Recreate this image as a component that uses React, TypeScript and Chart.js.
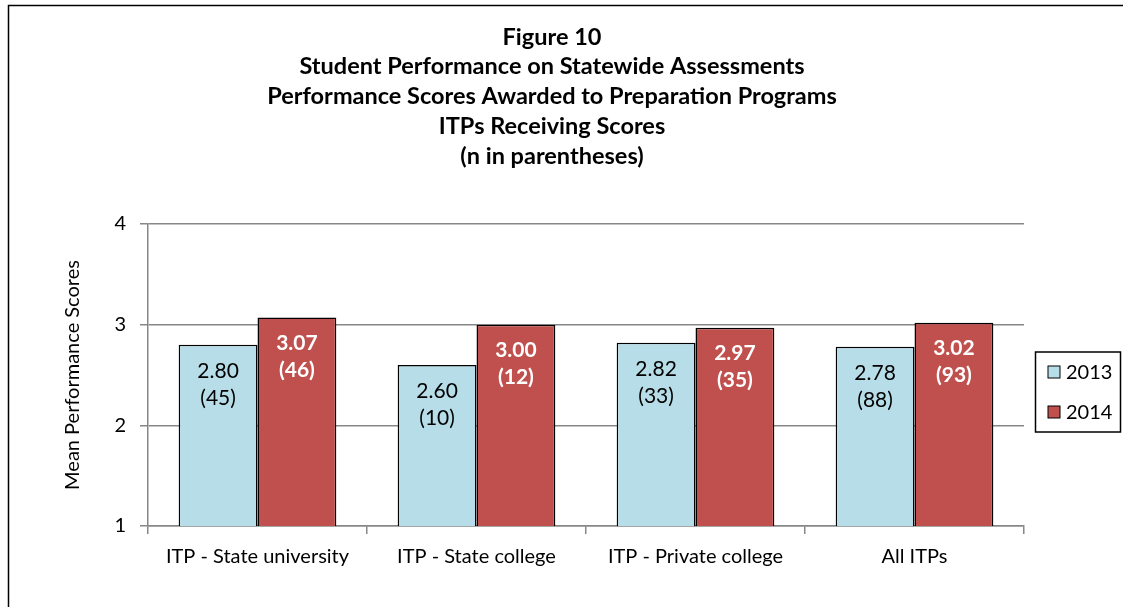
import React, { useEffect, useRef } from "react";
import { Chart, registerables } from "chart.js";

Chart.register(...registerables);

const categories = ["ITP - State university", "ITP - State college", "ITP - Private college", "All ITPs"];
const seriesLabels = ["2013", "2014"];
const values2013 = [2.8, 2.6, 2.82, 2.78];
const values2014 = [3.07, 3.0, 2.97, 3.02];
const counts2013 = [45, 10, 33, 88];
const counts2014 = [46, 12, 35, 93];
const yTickValues = [1, 2, 3, 4];
const yAxisTitle = "Mean Performance Scores";
const titleLines = [
  "Figure 10",
  "Student Performance on Statewide Assessments",
  "Performance Scores Awarded to Preparation Programs",
  "ITPs Receiving Scores",
  "(n in parentheses)",
];

const FONT = "Lato, 'Open Sans', sans-serif";
const COLOR_2013 = "#B7DEE8";
const COLOR_2014 = "#C0504D";
const GRID = "#878787";

const framePlugin = {
  id: "frame",
  beforeDraw(chart: any) {
    const ctx = chart.ctx;
    ctx.save();
    ctx.fillStyle = "#fff";
    ctx.fillRect(0, 0, chart.width, chart.height);
    ctx.restore();
  },
  afterDraw(chart: any) {
    const ctx = chart.ctx;
    ctx.save();
    ctx.strokeStyle = "#000";
    ctx.lineWidth = 1.5;
    ctx.strokeRect(8.5, 5.5, chart.width + 50, chart.height + 50);
    // title
    ctx.fillStyle = "#000";
    ctx.font = `bold 23.5px ${FONT}`;
    ctx.textAlign = "center";
    ctx.textBaseline = "middle";
    const ys = [37, 66.5, 96, 126, 156];
    titleLines.forEach((t, i) => ctx.fillText(t, 552, ys[i]));
    // legend
    ctx.lineWidth = 1.5;
    ctx.strokeRect(1035.5, 352, 85, 80);
    const items = [
      { label: seriesLabels[0], color: COLOR_2013, y: 372 },
      { label: seriesLabels[1], color: COLOR_2014, y: 412 },
    ];
    ctx.font = `20px ${FONT}`;
    ctx.textAlign = "left";
    items.forEach((it) => {
      ctx.fillStyle = it.color;
      ctx.fillRect(1048, it.y - 6, 12, 12);
      ctx.lineWidth = 1;
      ctx.strokeStyle = "#000";
      ctx.strokeRect(1048, it.y - 6, 12, 12);
      ctx.fillStyle = "#000";
      ctx.fillText(it.label, 1066, it.y + 1);
    });
    ctx.restore();
  },
};

const labelPlugin = {
  id: "barLabels",
  afterDatasetsDraw(chart: any) {
    const ctx = chart.ctx;
    ctx.save();
    ctx.textAlign = "center";
    ctx.textBaseline = "middle";
    const counts = [counts2013, counts2014];
    chart.data.datasets.forEach((ds: any, di: number) => {
      const meta = chart.getDatasetMeta(di);
      meta.data.forEach((bar: any, i: number) => {
        const v = ds.data[i] as number;
        ctx.font = di === 0 ? `21px ${FONT}` : `bold 21px ${FONT}`;
        ctx.fillStyle = di === 0 ? "#000" : "#fff";
        ctx.fillText(v.toFixed(2), bar.x, bar.y + 26);
        ctx.fillText(`(${counts[di][i]})`, bar.x, bar.y + 53);
      });
    });
    ctx.restore();
  },
};

export default function App() {
  const ref = useRef<HTMLCanvasElement | null>(null);
  useEffect(() => {
    document.body.style.margin = "0";
    if (!ref.current) return;
    const chart = new Chart(ref.current, {
      type: "bar",
      data: {
        labels: categories,
        datasets: [
          {
            label: seriesLabels[0],
            data: values2013,
            backgroundColor: COLOR_2013,
            borderColor: "#000",
            borderWidth: 1.5,
            categoryPercentage: 0.72,
            barPercentage: 1,
          },
          {
            label: seriesLabels[1],
            data: values2014,
            backgroundColor: COLOR_2014,
            borderColor: "#000",
            borderWidth: 1.5,
            categoryPercentage: 0.72,
            barPercentage: 1,
          },
        ],
      },
      options: {
        animation: false,
        responsive: true,
        maintainAspectRatio: false,
        layout: { padding: { top: 224, right: 99, left: 0, bottom: 0 } },
        plugins: {
          legend: { display: false },
          title: { display: false },
          tooltip: { enabled: false },
        },
        scales: {
          x: {
            grid: {
              drawOnChartArea: false,
              drawTicks: true,
              tickLength: 8,
              color: GRID,
              lineWidth: 1.5,
              offset: true,
            },
            border: { color: GRID, width: 1.5 },
            ticks: { font: { family: FONT, size: 20 }, color: "#000", padding: 11, maxRotation: 0 },
            afterFit: (s: any) => {
              s.height = 81;
            },
          },
          y: {
            min: yTickValues[0],
            max: yTickValues[yTickValues.length - 1],
            afterBuildTicks: (s: any) => {
              s.ticks = yTickValues.map((v) => ({ value: v }));
            },
            ticks: { font: { family: FONT, size: 20 }, color: "#000", padding: 14 },
            grid: { color: GRID, lineWidth: 1.5, tickLength: 8 },
            border: { color: GRID, width: 1.5 },
            title: {
              display: true,
              text: yAxisTitle,
              font: { family: FONT, size: 20 },
              color: "#000",
              padding: { top: 61, bottom: 0 },
            },
            afterFit: (s: any) => {
              s.width = 148;
            },
          },
        },
      },
      plugins: [framePlugin, labelPlugin],
    });
    return () => chart.destroy();
  }, []);
  return (
    <div style={{ width: 1123, height: 607, position: "relative" }}>
      <canvas ref={ref} style={{ display: "block" }} />
    </div>
  );
}
